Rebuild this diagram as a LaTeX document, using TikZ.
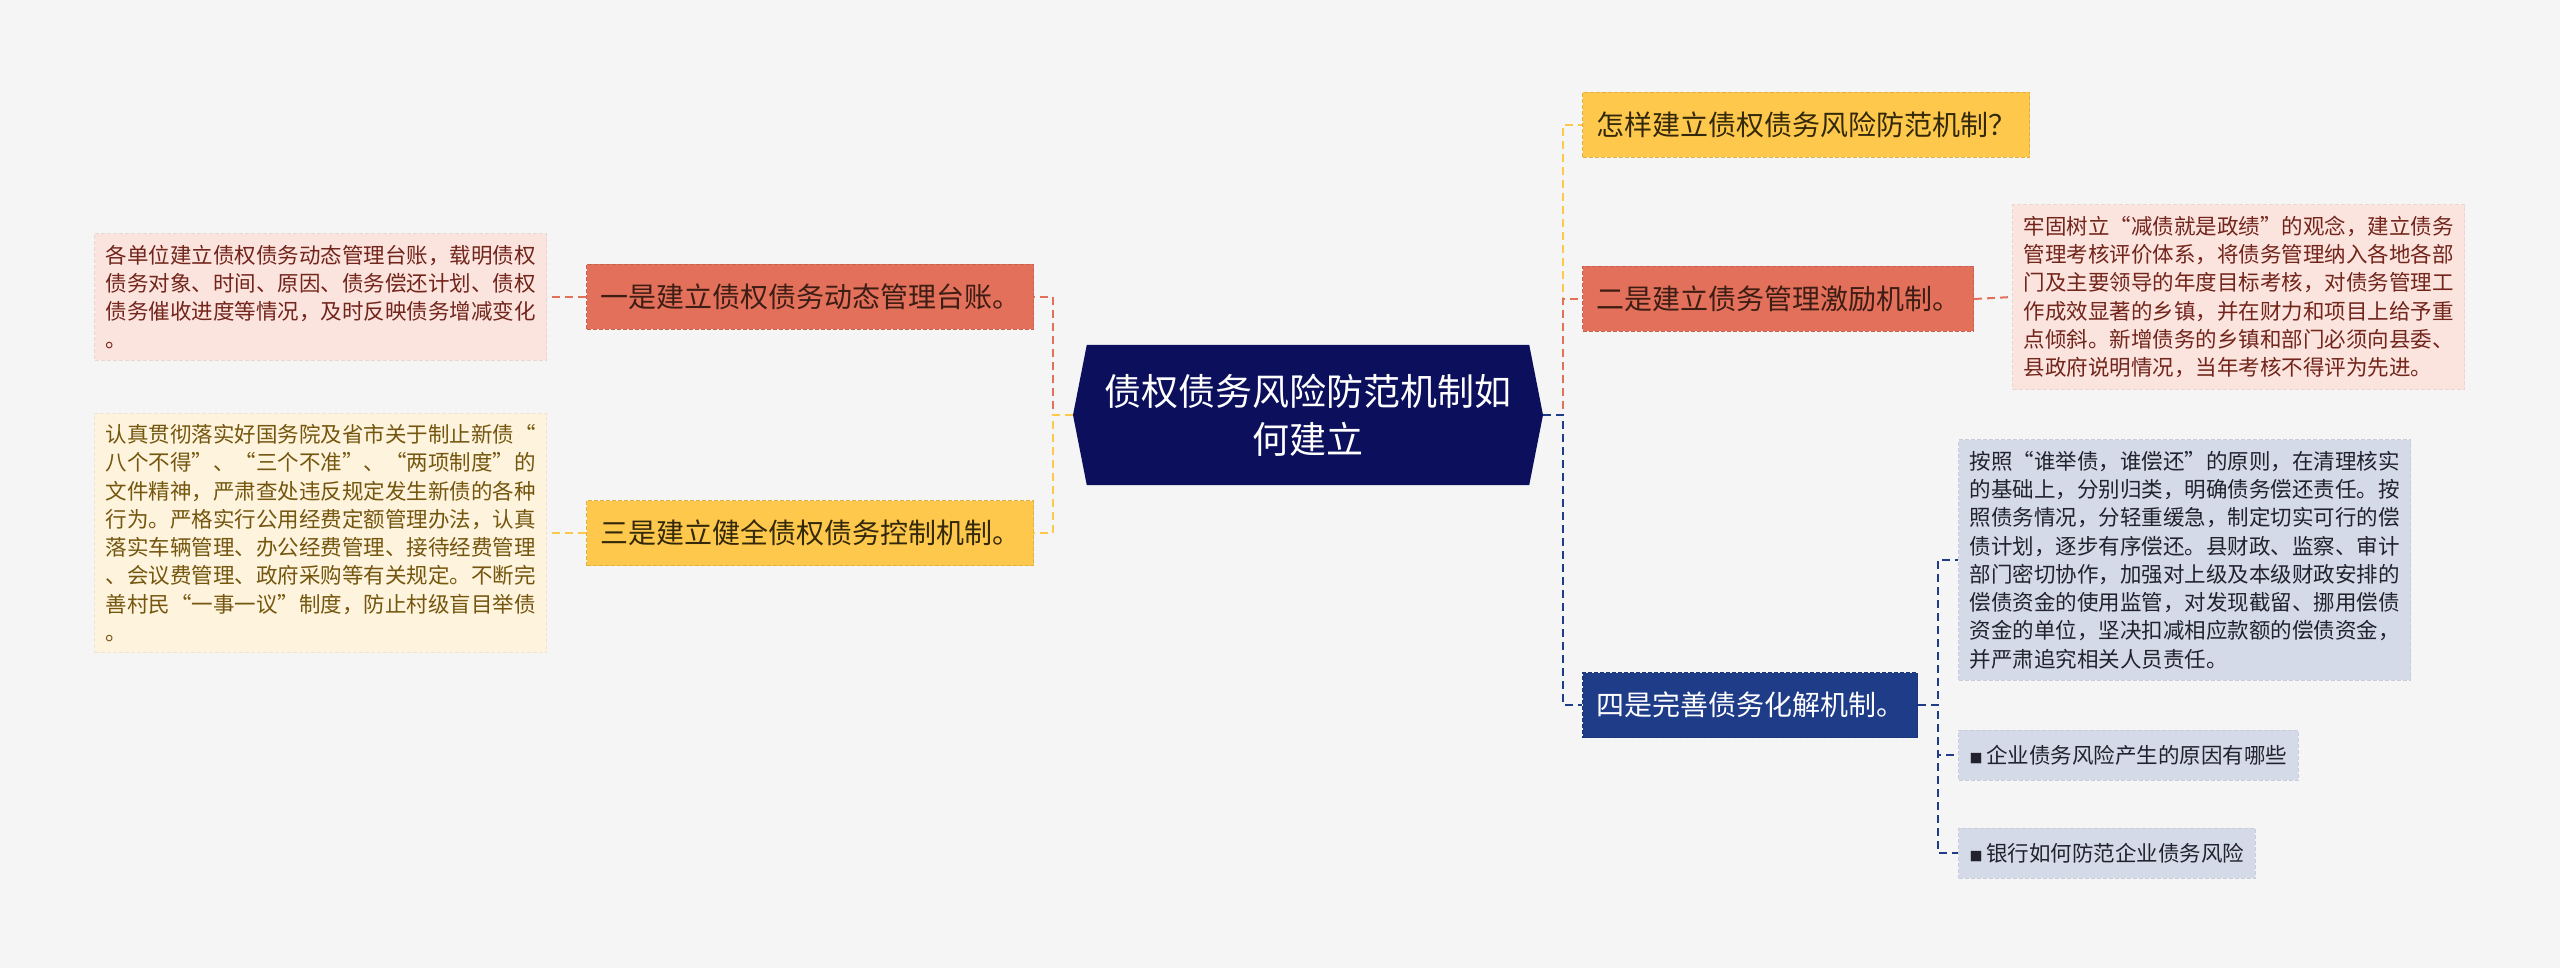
\documentclass[tikz,border=0pt]{standalone}
\usepackage{fontspec}
\newfontfamily\cjk{Noto Sans CJK SC}
\usetikzlibrary{backgrounds}

\definecolor{pagebg}{HTML}{F5F5F5}
\definecolor{rootblue}{HTML}{0C0F5B}
\definecolor{navy}{HTML}{1F3C88}
\definecolor{salmon}{HTML}{E2705A}
\definecolor{gold}{HTML}{FDC84B}
\definecolor{pinkbg}{HTML}{FBE3DE}
\definecolor{creambg}{HTML}{FEF3DC}
\definecolor{greybg}{HTML}{D5DAE8}
\definecolor{redtext}{HTML}{3D1D14}
\definecolor{goldtext}{HTML}{33280A}
\definecolor{pinktext}{HTML}{72251B}
\definecolor{creamtext}{HTML}{74560F}
\definecolor{greytext}{HTML}{22222E}

\begin{document}
\begin{tikzpicture}[
		x=1pt, y=-1pt,
		branch/.style={
			rectangle,
			minimum height=65pt,
			inner xsep=13.5pt,
			inner ysep=0pt,
			fill=#1,
			draw=#1!88!black,
			line width=1pt,
			dash pattern=on 4pt off 2pt,
			font=\cjk\fontsize{28}{32}\selectfont
		},
		note/.style={
			rectangle,
			align=left,
			inner xsep=11pt,
			inner ysep=11pt,
			fill=#1,
			draw=#1!94!black,
			line width=1pt,
			dash pattern=on 4pt off 2pt,
			font=\cjk\fontsize{21.5}{28.3}\selectfont
		},
		link/.style={draw=#1, line width=2pt, dash pattern=on 8pt off 5pt}
		]
		
		% Page
		\begin{scope}[on background layer]
			\fill[pagebg] (0,0) rectangle (2560,968);
		\end{scope}
		
		% Root
		\node[text=white, align=center, font=\cjk\fontsize{37}{48}\selectfont,
		minimum width=442pt, minimum height=140pt] (root) at (1308,415)
		{债权债务风险防范机制如\\何建立};
		\coordinate (rootW) at (1073,415);
		\coordinate (rootE) at (1543,415);
		\begin{scope}[on background layer]
			\fill[rootblue] (root.north west) -- (root.north east) -- (rootE)
			-- (root.south east) -- (root.south west) -- (rootW) -- cycle;
		\end{scope}
		
		% Left branches
		\node[branch=salmon, text=redtext] (l1) at (810,297) {一是建立债权债务动态管理台账。};
		\node[branch=gold, text=goldtext] (l2) at (810,533) {三是建立健全债权债务控制机制。};
		
		\node[note=pinkbg, text=pinktext, anchor=east] (l1d) at (547,297)
		{各单位建立债权债务动态管理台账，载明债权\\
			债务对象、时间、原因、债务偿还计划、债权\\
			债务催收进度等情况，及时反映债务增减变化\\
			。};
		
		\node[note=creambg, text=creamtext, anchor=east] (l2d) at (547,533)
		{认真贯彻落实好国务院及省市关于制止新债“\\
			八个不得”、“三个不准”、“两项制度”的\\
			文件精神，严肃查处违反规定发生新债的各种\\
			行为。严格实行公用经费定额管理办法，认真\\
			落实车辆管理、办公经费管理、接待经费管理\\
			、会议费管理、政府采购等有关规定。不断完\\
			善村民“一事一议”制度，防止村级盲目举债\\
			。};
		
		% Right branches
		\node[branch=gold, text=goldtext, anchor=west] (r1) at (1582,125) {怎样建立债权债务风险防范机制？};
		\node[branch=salmon, text=redtext, anchor=west] (r2) at (1582,299) {二是建立债务管理激励机制。};
		\node[branch=navy, text=white, anchor=west] (r3) at (1582,705) {四是完善债务化解机制。};
		
		\node[note=pinkbg, text=pinktext, anchor=west] (r2d) at (2012,297)
		{牢固树立“减债就是政绩”的观念，建立债务\\
			管理考核评价体系，将债务管理纳入各地各部\\
			门及主要领导的年度目标考核，对债务管理工\\
			作成效显著的乡镇，并在财力和项目上给予重\\
			点倾斜。新增债务的乡镇和部门必须向县委、\\
			县政府说明情况，当年考核不得评为先进。};
		
		\node[note=greybg, text=greytext, anchor=west] (r3a) at (1958,560)
		{按照“谁举债，谁偿还”的原则，在清理核实\\
			的基础上，分别归类，明确债务偿还责任。按\\
			照债务情况，分轻重缓急，制定切实可行的偿\\
			债计划，逐步有序偿还。县财政、监察、审计\\
			部门密切协作，加强对上级及本级财政安排的\\
			偿债资金的使用监管，对发现截留、挪用偿债\\
			资金的单位，坚决扣减相应款额的偿债资金，\\
			并严肃追究相关人员责任。};
		\node[note=greybg, text=greytext, anchor=west, minimum height=50pt, inner ysep=0pt] (r3b) at (1958,755)
		{{\fontsize{13}{13}\selectfont■}\,企业债务风险产生的原因有哪些};
		\node[note=greybg, text=greytext, anchor=west, minimum height=50pt, inner ysep=0pt] (r3c) at (1958,853)
		{{\fontsize{13}{13}\selectfont■}\,银行如何防范企业债务风险};
		
		% Connectors
		\draw[link=salmon] (rootW) -- ++(-20,0) |- (l1.east);
		\draw[link=gold] (rootW) -- ++(-20,0) |- (l2.east);
		\draw[link=salmon] (l1.west) -- (l1d.east);
		\draw[link=gold] (l2.west) -- (l2d.east);
		
		\draw[link=gold] (rootE) -- ++(20,0) |- (r1.west);
		\draw[link=salmon] (rootE) -- ++(20,0) |- (r2.west);
		\draw[link=navy] (rootE) -- ++(20,0) |- (r3.west);
		\draw[link=salmon] (r2.east) -- (r2d.west);
		
		\draw[link=navy] (r3.east) -- ++(20,0) |- (r3a.west);
		\draw[link=navy] (r3.east) -- ++(20,0) |- (r3b.west);
		\draw[link=navy] (r3.east) -- ++(20,0) |- (r3c.west);
		
	\end{tikzpicture}
\end{document}
